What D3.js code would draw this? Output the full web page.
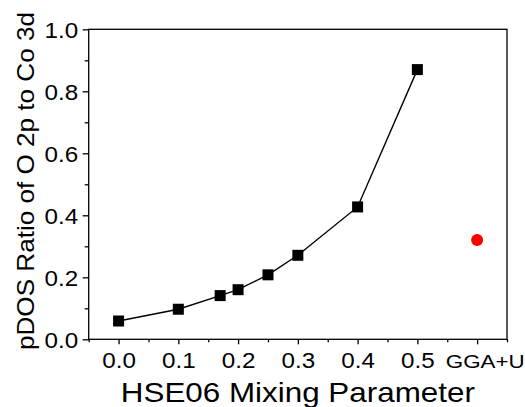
<!DOCTYPE html>
<html><head><meta charset="utf-8">
<script src="https://cdn.jsdelivr.net/npm/d3@7"></script>
<style>body{margin:0;background:#fff;} svg{display:block;font-family:"Liberation Sans",Arial,sans-serif;}</style>
</head><body>
<script>
const xValues = [0.0, 0.1, 0.17, 0.2, 0.25, 0.3, 0.4, 0.5];
const yValues = [0.059, 0.097, 0.141, 0.160, 0.208, 0.271, 0.427, 0.870];
const gguLabel = "GGA+U";
const gguX = [0.6];
const gguY = [0.32];
const xTickValues = [0.0, 0.1, 0.2, 0.3, 0.4, 0.5];
const xTickLabels = ["0.0", "0.1", "0.2", "0.3", "0.4", "0.5"];
const yTickValues = [0.0, 0.2, 0.4, 0.6, 0.8, 1.0];

const W = 525, H = 407;
const m = {left: 88.7, right: 18, top: 29.3, bottom: 67.7};
const svg = d3.select("body").append("svg").attr("width", W).attr("height", H);
const x = d3.scaleLinear().domain([-0.05, 0.65]).range([m.left, W - m.right]);
const y = d3.scaleLinear().domain([0, 1]).range([H - m.bottom, m.top]);
const FF = "Liberation Sans, Arial, sans-serif";

// frame
svg.append("rect").attr("x", x(-0.05)).attr("y", y(1)).attr("width", x(0.65) - x(-0.05)).attr("height", y(0) - y(1))
  .attr("fill", "none").attr("stroke", "#000").attr("stroke-width", 1.3);

// x axis
const xMinor = d3.range(-0.05, 0.651, 0.1).map(v => +v.toFixed(2));
const xAxisG = svg.append("g").attr("transform", `translate(0,${y(0)})`);
xAxisG.call(d3.axisBottom(x).tickValues(xTickValues.concat(gguX)).tickSize(5).tickPadding(0)
  .tickFormat((d, i) => i < xTickLabels.length ? xTickLabels[i] : gguLabel));
xAxisG.select(".domain").remove();
xAxisG.selectAll(".tick line").attr("stroke-width", 1.3);
xAxisG.selectAll(".tick text").attr("font-size", 22).attr("fill", "#000").attr("y", 29).attr("dy", 0)
  .style("font-family", FF).attr("transform", "scale(1.1,1)");
xAxisG.selectAll(".tick text").filter(d => d === 0.6).attr("font-size", 18.6)
  .attr("x", 6.3).attr("transform", "scale(1.2,1)");
const xMinorG = svg.append("g").attr("transform", `translate(0,${y(0)})`);
xMinorG.call(d3.axisBottom(x).tickValues(xMinor).tickSize(3).tickFormat(""));
xMinorG.select(".domain").remove();
xMinorG.selectAll(".tick line").attr("stroke-width", 1.3);

// y axis
const yAxisG = svg.append("g").attr("transform", `translate(${x(-0.05)},0)`);
yAxisG.call(d3.axisLeft(y).tickValues(yTickValues).tickSize(6).tickFormat(d3.format(".1f")));
yAxisG.select(".domain").remove();
yAxisG.selectAll(".tick line").attr("stroke-width", 1.3);
yAxisG.selectAll(".tick text").attr("font-size", 22).attr("x", -9.5).attr("dy", "0.36em").attr("fill", "#000")
  .style("font-family", FF).attr("transform", "scale(1.1,1)");
const yMinorG = svg.append("g").attr("transform", `translate(${x(-0.05)},0)`);
yMinorG.call(d3.axisLeft(y).tickValues([0.1, 0.3, 0.5, 0.7, 0.9]).tickSize(4).tickFormat(""));
yMinorG.select(".domain").remove();
yMinorG.selectAll(".tick line").attr("stroke-width", 1.3);

// line
const pts = xValues.map((v, i) => [v, yValues[i]]);
svg.append("path").datum(pts).attr("fill", "none").attr("stroke", "#000").attr("stroke-width", 1.4)
  .attr("d", d3.line().x(d => x(d[0])).y(d => y(d[1])));
const s = 11;
svg.selectAll("rect.pt").data(pts).enter().append("rect").attr("class", "pt")
  .attr("x", d => x(d[0]) - s / 2).attr("y", d => y(d[1]) - s / 2).attr("width", s).attr("height", s).attr("fill", "#000");

svg.selectAll("circle.ggu").data(gguX.map((v, i) => [v, gguY[i]])).enter().append("circle").attr("class", "ggu")
  .attr("cx", d => x(d[0])).attr("cy", d => y(d[1])).attr("r", 6).attr("fill", "#ff0000");

// titles
svg.append("text").attr("x", (x(-0.05) + x(0.65)) / 2).attr("y", 402.3).attr("text-anchor", "middle")
  .attr("font-size", 28).attr("fill", "#000").attr("textLength", 354).attr("lengthAdjust", "spacingAndGlyphs")
  .text("HSE06 Mixing Parameter");
svg.append("text").attr("transform", `translate(34,181) rotate(-90)`).attr("text-anchor", "middle")
  .attr("font-size", 24.5).attr("fill", "#000").attr("textLength", 338).attr("lengthAdjust", "spacingAndGlyphs")
  .text("pDOS Ratio of O 2p to Co 3d");
</script>
</body></html>
